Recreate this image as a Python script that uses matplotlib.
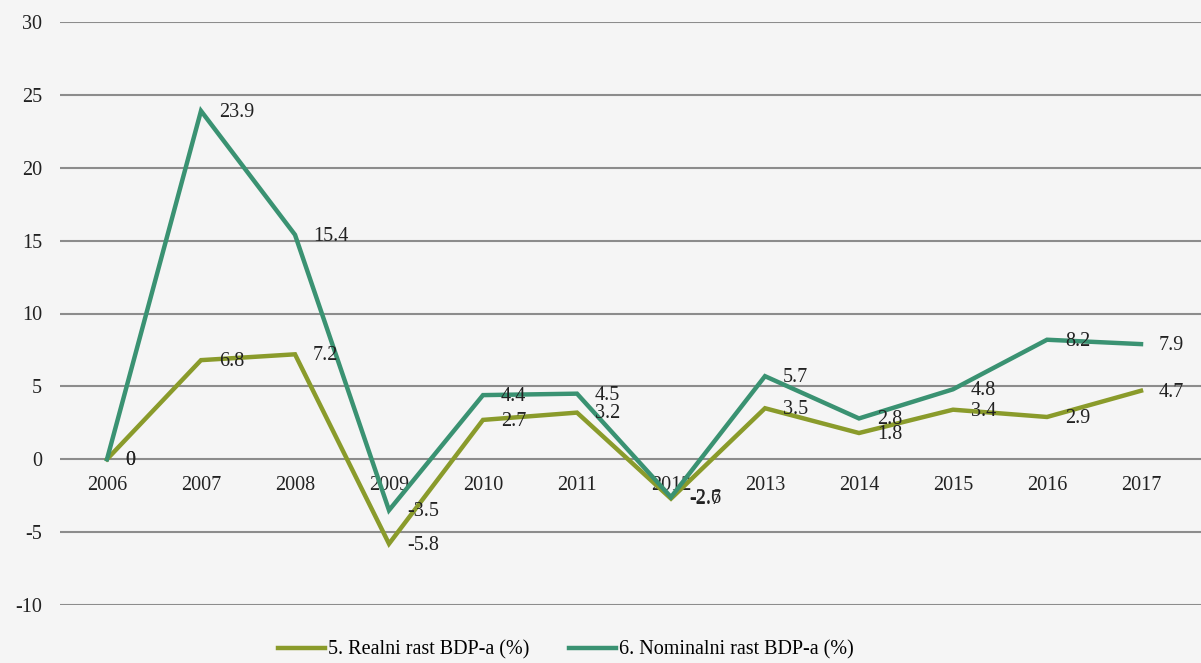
import matplotlib.pyplot as plt

years = ["2006", "2007", "2008", "2009", "2010", "2011", "2012",
         "2013", "2014", "2015", "2016", "2017"]
realni = [0, 6.8, 7.2, -5.8, 2.7, 3.2, -2.7, 3.5, 1.8, 3.4, 2.9, 4.7]
nominalni = [0, 23.9, 15.4, -3.5, 4.4, 4.5, -2.6, 5.7, 2.8, 4.8, 8.2, 7.9]

plt.rcParams['font.family'] = ['Liberation Serif', 'DejaVu Serif']
plt.rcParams['axes.unicode_minus'] = False

fig = plt.figure(figsize=(12.01, 6.63), dpi=100)
fig.patch.set_facecolor('#f5f5f5')
ax = fig.add_axes([60/1201, 1 - 605/663, 1 - 60/1201, (605 - 22)/663])
ax.set_facecolor('#f5f5f5')

x = list(range(len(years)))
c_real = '#8a9b2b'
c_nom = '#3a9272'

ax.plot(x, realni, color=c_real, lw=3.2, solid_joinstyle='miter', zorder=3,
        label="5. Realni rast BDP-a (%)")
ax.plot(x, nominalni, color=c_nom, lw=3.2, solid_joinstyle='miter', zorder=3,
        label="6. Nominalni rast BDP-a (%)")

for serie in (realni, nominalni):
    for xi, v in zip(x, serie):
        ax.annotate(f"{v:g}", (xi, v), xytext=(13, -1), textcoords='offset points',
                    va='center', ha='left', fontsize=14.5, color='#222222', zorder=4)

ax.set_xlim(-0.5, 11 + 60/94)
ax.set_ylim(-10, 30)
ax.set_yticks(range(-10, 31, 5))
ax.set_xticks(x)
ax.set_xticklabels(years)
ax.yaxis.grid(True, color='#8c8c8c', lw=1.5)
ax.set_axisbelow(True)

for s in ['top', 'right', 'left']:
    ax.spines[s].set_visible(False)
ax.spines['bottom'].set_position(('data', 0))
ax.spines['bottom'].set_visible(False)
ax.tick_params(axis='both', length=0, labelsize=14.5, colors='#222222')
ax.tick_params(axis='x', pad=12)
ax.tick_params(axis='y', pad=13)

fig.legend(loc='center', bbox_to_anchor=(566/1201, 1 - 650/663),
           ncol=2, frameon=False, fontsize=14.5, handlelength=2.3,
           columnspacing=2.0, handletextpad=0.15)

fig.savefig("out.png", dpi=100, facecolor=fig.get_facecolor())
